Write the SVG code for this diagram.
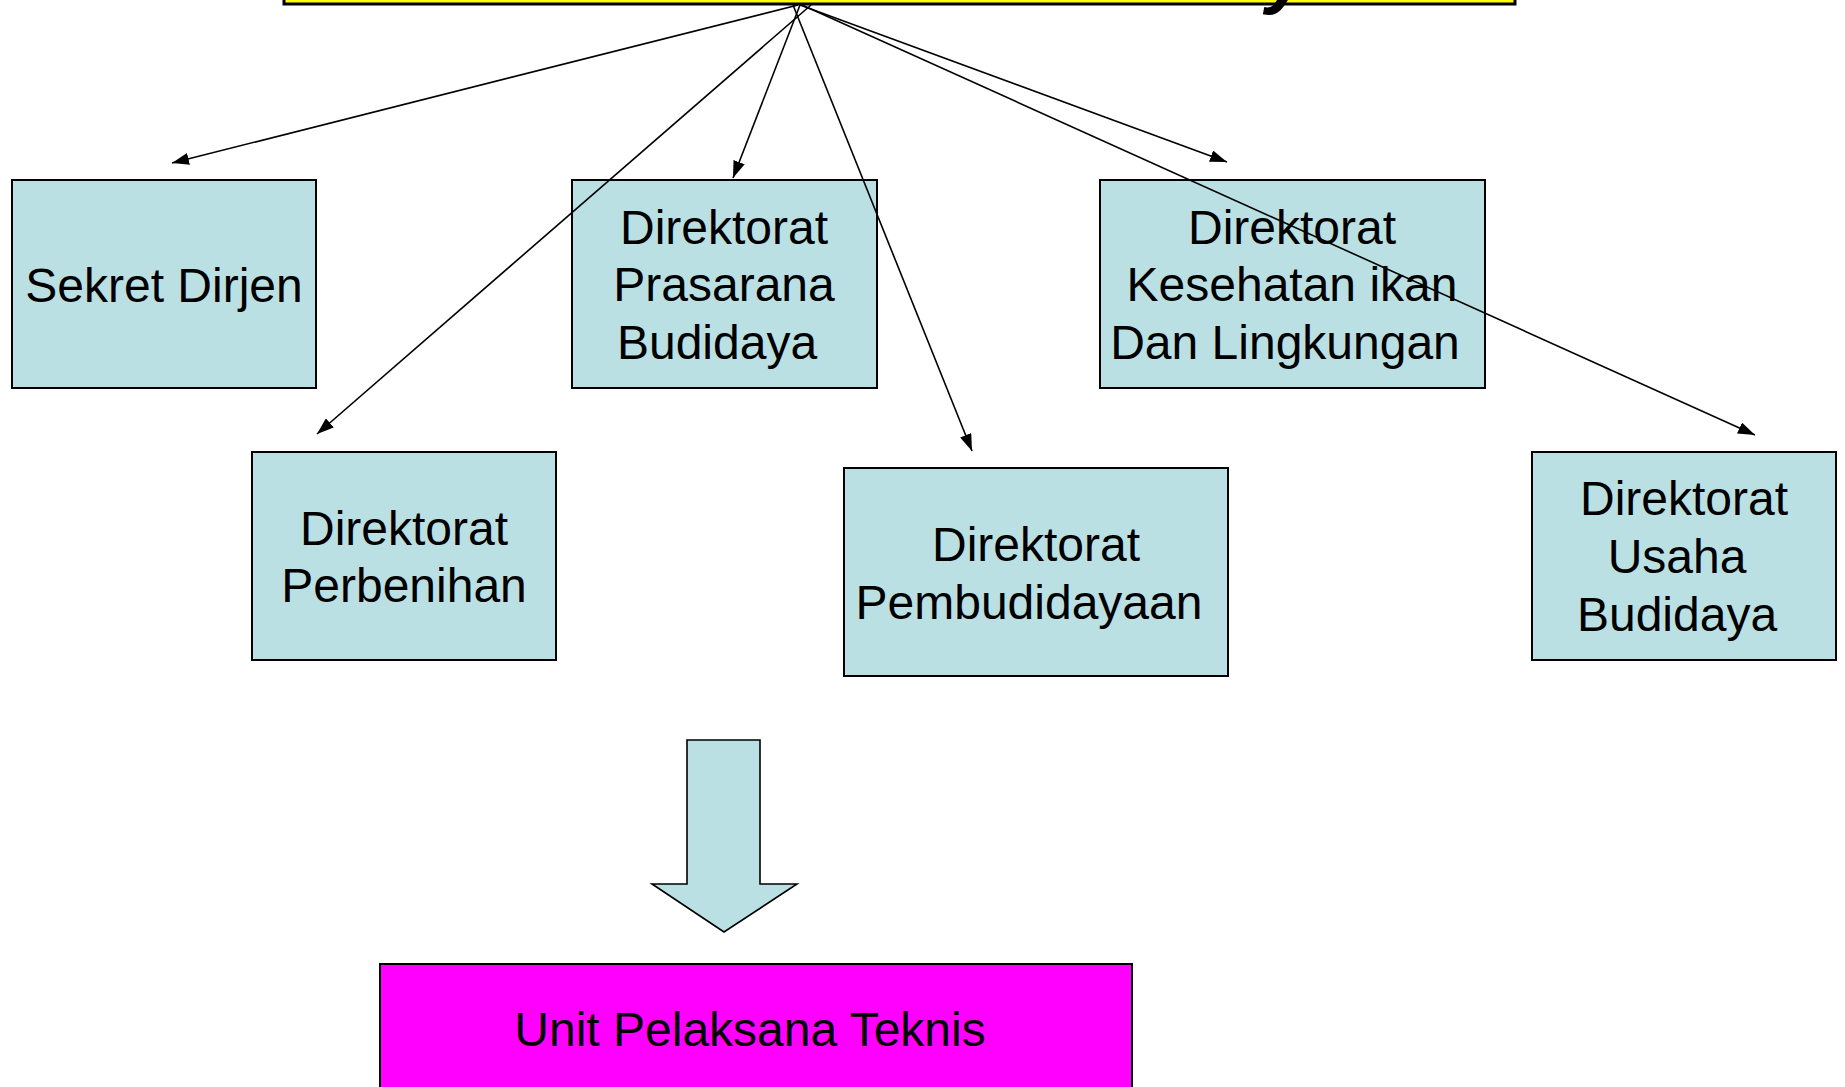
<svg xmlns="http://www.w3.org/2000/svg" width="1845" height="1087" viewBox="0 0 1845 1087">
<style>
.box{fill:#BBE0E3;stroke:#000;stroke-width:2}
.lbl{font-family:"Liberation Sans",Arial,sans-serif;font-size:48px;fill:#000;text-anchor:middle}
.conn{stroke:#000;stroke-width:1.6;fill:none;marker-end:url(#ah)}
</style>
<defs>
<marker id="ah" markerUnits="userSpaceOnUse" markerWidth="18" markerHeight="12" refX="17" refY="6" orient="auto">
<path d="M0,0 L17,6 L0,12 Z" fill="#000"/>
</marker>
</defs>
<rect width="1845" height="1087" fill="#fff"/>
<g id="title">
<rect x="284" y="-60" width="1231" height="64" fill="#FFFF00" stroke="#000" stroke-width="3"/>
<text x="1266" y="-1" font-family="Liberation Sans,Arial,sans-serif" font-size="76" font-weight="bold" font-style="italic" fill="#000">y</text>
</g>
<g id="sekret">
<rect class="box" x="12" y="180" width="304" height="208"/>
<text class="lbl" x="164" y="302">Sekret Dirjen</text>
</g>
<g id="prasarana">
<rect class="box" x="572" y="180" width="305" height="208"/>
<text class="lbl" x="724" y="244">Direktorat</text>
<text class="lbl" x="724" y="301">Prasarana</text>
<text class="lbl" x="717" y="359">Budidaya</text>
</g>
<g id="kesehatan">
<rect class="box" x="1100" y="180" width="385" height="208"/>
<text class="lbl" x="1292" y="244">Direktorat</text>
<text class="lbl" x="1292" y="301">Kesehatan ikan</text>
<text class="lbl" x="1285" y="359">Dan Lingkungan</text>
</g>
<g id="perbenihan">
<rect class="box" x="252" y="452" width="304" height="208"/>
<text class="lbl" x="404" y="545">Direktorat</text>
<text class="lbl" x="404" y="602">Perbenihan</text>
</g>
<g id="pembudidayaan">
<rect class="box" x="844" y="468" width="384" height="208"/>
<text class="lbl" x="1036" y="561">Direktorat</text>
<text class="lbl" x="1029" y="619">Pembudidayaan</text>
</g>
<g id="usaha">
<rect class="box" x="1532" y="452" width="304" height="208"/>
<text class="lbl" x="1684" y="515">Direktorat</text>
<text class="lbl" x="1677" y="573">Usaha</text>
<text class="lbl" x="1677" y="631">Budidaya</text>
</g>
<g id="down-arrow">
<polygon points="687,740 760,740 760,884 797,884 724,932 652,884 687,884" fill="#BBE0E3" stroke="#000" stroke-width="1.6"/>
</g>
<g id="upt">
<rect x="380" y="964" width="752" height="160" fill="#FF00FF" stroke="#000" stroke-width="2"/>
<text class="lbl" x="750" y="1046">Unit Pelaksana Teknis</text>
</g>
<g id="connectors">
<line class="conn" x1="798" y1="5" x2="172" y2="163"/>
<line class="conn" x1="811" y1="5" x2="317" y2="434"/>
<line class="conn" x1="800" y1="5" x2="733" y2="178"/>
<line class="conn" x1="793" y1="5" x2="972" y2="451"/>
<line class="conn" x1="800" y1="5" x2="1227" y2="162"/>
<line class="conn" x1="802" y1="5" x2="1755" y2="435"/>
</g>
</svg>
